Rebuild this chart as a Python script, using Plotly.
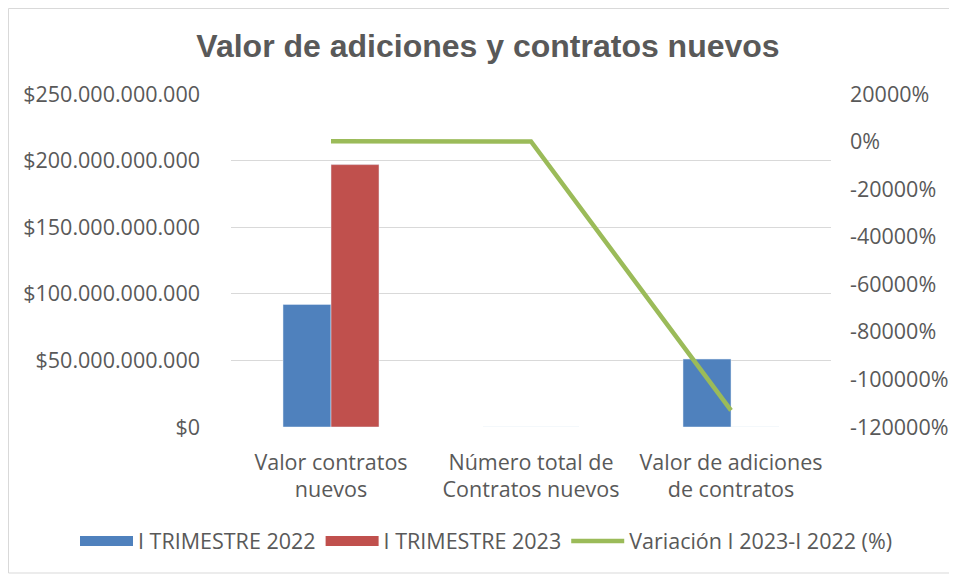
import plotly.graph_objects as go

categories = ["Valor contratos<br>nuevos", "Número total de<br>Contratos nuevos", "Valor de adiciones<br>de contratos"]
trim_2022 = [92_000_000_000, 30, 51_000_000_000]
trim_2023 = [197_000_000_000, 45, 40]
variacion = [114, 50, -113000]

left_ticks = [0, 50e9, 100e9, 150e9, 200e9, 250e9]
left_labels = ["$0", "$50.000.000.000", "$100.000.000.000", "$150.000.000.000",
               "$200.000.000.000", "$250.000.000.000"]
right_ticks = [20000, 0, -20000, -40000, -60000, -80000, -100000, -120000]
right_labels = ["20000%", "0%", "-20000%", "-40000%", "-60000%", "-80000%", "-100000%", "-120000%"]

font_main = "Open Sans"
grey = "#595959"
blue, red, green = "#4F81BD", "#C0504D", "#9BBB59"
fsize = 21.5

fig = go.Figure()
fig.add_trace(go.Bar(x=categories, y=trim_2022, name="I TRIMESTRE 2022",
                     marker=dict(color=blue), showlegend=False, legendgroup="a"))
fig.add_trace(go.Bar(x=categories, y=trim_2023, name="I TRIMESTRE 2023",
                     marker=dict(color=red), showlegend=False, legendgroup="b"))
fig.add_trace(go.Scatter(x=categories, y=variacion, name="Variación I 2023-I 2022 (%)",
                         mode="lines", yaxis="y2", showlegend=False, legendgroup="c",
                         line=dict(color=green, width=4.5)))

# legend entries with wide swatches like the Excel legend
for name, color, width, grp in [("I TRIMESTRE 2022", blue, 13, "a"),
                                ("I TRIMESTRE 2023", red, 13, "b"),
                                ("Variación I 2023-I 2022 (%)", green, 4.5, "c")]:
    fig.add_trace(go.Scatter(x=[None], y=[None], mode="lines", name=name,
                             legendgroup=grp, line=dict(color=color, width=width)))

# page is offset by the 8px body margin
off = 8
W, H = 957, 576
ml = 231 - off
mt = 94 - off
mr = W - (831 - off)
mb = H - (427 - off)
pw, ph = W - ml - mr, H - mt - mb

fig.update_layout(
    width=W, height=H,
    margin=dict(l=ml, r=mr, t=mt, b=mb, autoexpand=False),
    paper_bgcolor="white", plot_bgcolor="white",
    font=dict(family=font_main, size=fsize, color=grey),
    title=dict(text="<b>Valor de adiciones y contratos nuevos</b>",
               x=(488 - off) / W, xref="container", xanchor="center",
               y=1 - (46 - off) / H, yanchor="middle",
               font=dict(family="Liberation Sans", size=32, color=grey)),
    barmode="group", bargap=0.52, bargroupgap=0,
    xaxis=dict(showline=False, ticks="", automargin=False, ticklabelstandoff=20,
               tickfont=dict(size=fsize, color=grey)),
    yaxis=dict(range=[0, 250e9], tickvals=left_ticks, ticktext=left_labels,
               showgrid=True, gridcolor="#D9D9D9", gridwidth=1.3,
               zeroline=False, showline=False, ticks="", automargin=False,
               ticklabelstandoff=30, tickfont=dict(size=fsize, color=grey)),
    yaxis2=dict(range=[-120000, 20000], overlaying="y", side="right",
                tickvals=right_ticks, ticktext=right_labels,
                showgrid=False, zeroline=False, showline=False, ticks="",
                automargin=False,
                ticklabelstandoff=18, tickfont=dict(size=fsize, color=grey)),
    legend=dict(orientation="h", x=(75 - off - ml) / pw, xanchor="left",
                y=-(541 - 427) / ph, yanchor="middle",
                font=dict(size=fsize, color=grey), itemwidth=53,
                traceorder="normal"),
    shapes=[dict(type="rect", xref="paper", yref="paper",
                 x0=-(ml - 0.5) / pw, x1=1 + (mr - (W - (951 - off))) / pw,
                 y0=-(mb - (H - (573 - off))) / ph, y1=1 + (mt - 0.5) / ph,
                 line=dict(color="#D9D9D9", width=1), fillcolor="rgba(0,0,0,0)")],
)

fig.write_html("out.html")
